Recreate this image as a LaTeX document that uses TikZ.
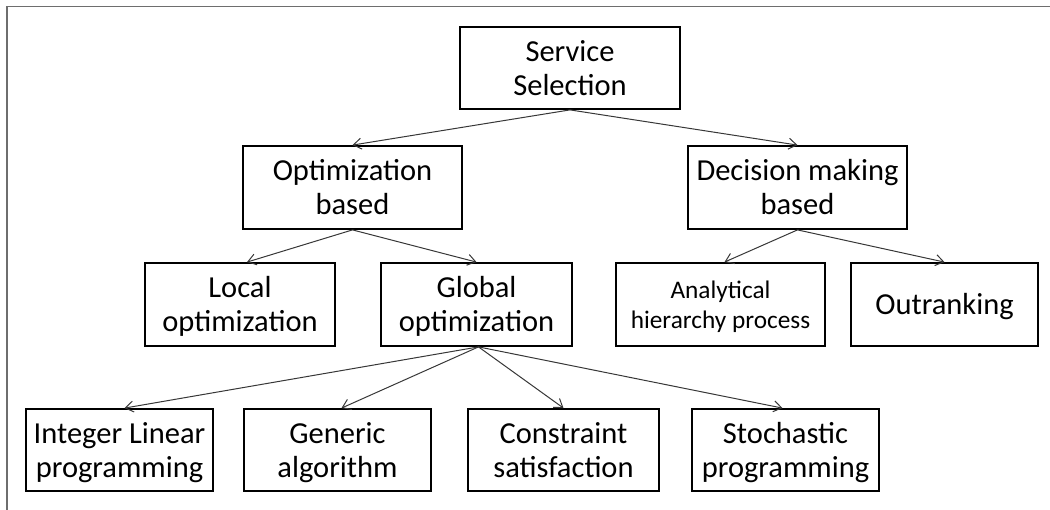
\documentclass[tikz,border=0pt]{standalone}
\usepackage{fontspec}
\setmainfont{Carlito}
\usetikzlibrary{arrows.meta}
\definecolor{linkgray}{RGB}{55,55,55}
\definecolor{framegray}{RGB}{110,110,110}
\tikzset{
  box/.style={draw=black, line width=1.8pt, align=center, inner sep=0pt,
    font=\fontsize{30.5}{34}\selectfont, text height=55pt, text depth=0pt},
  oneline/.style={text height=21pt},
  smalltext/.style={font=\fontsize{25.3}{30}\selectfont, text height=47.5pt},
  link/.style={draw=linkgray, line width=1pt,
    -{Straight Barb[length=8pt,width=11pt,line width=1pt]}},
}
\begin{document}
\begin{tikzpicture}[x=1pt,y=-1pt]
  \useasboundingbox (0,0) rectangle (1050,510);
  % frame lines at top and left
  \draw[framegray, line width=1.5pt] (7,510) -- (7,6.5) -- (1050,6.5);

  % boxes
  \node[box, minimum width=220pt, minimum height=82pt] (ss) at (570,68) {Service\\Selection};
  \node[box, minimum width=219pt, minimum height=83pt] (ob) at (352.5,187.5) {Optimization\\based};
  \node[box, minimum width=219pt, minimum height=83pt] (dm) at (797.5,187.5) {Decision making\\based};
  \node[box, minimum width=190pt, minimum height=83pt] (lo) at (240,304.5) {Local\\optimization};
  \node[box, minimum width=191pt, minimum height=83pt] (go) at (476.5,304.5) {Global\\optimization};
  \node[box, smalltext, minimum width=209pt, minimum height=83pt] (ahp) at (720.5,304.5) {Analytical\\hierarchy process};
  \node[box, oneline, minimum width=187pt, minimum height=83pt] (out) at (944.5,304.5) {Outranking};
  \node[box, minimum width=187pt, minimum height=82pt] (ilp) at (119.5,450) {Integer Linear\\programming};
  \node[box, minimum width=187pt, minimum height=82pt] (ga) at (337.5,450) {Generic\\algorithm};
  \node[box, minimum width=191pt, minimum height=82pt] (cs) at (563.5,450) {Constraint\\satisfaction};
  \node[box, minimum width=187pt, minimum height=82pt] (sp) at (785.5,450) {Stochastic\\programming};

  % connectors
  \draw[link] (ss.south) -- (ob.north);
  \draw[link] (ss.south) -- (dm.north);
  \draw[link] (ob.south) -- ([xshift=7pt]lo.north);
  \draw[link] (ob.south) -- (go.north);
  \draw[link] (dm.south) -- ([xshift=4pt]ahp.north);
  \draw[link] (dm.south) -- (out.north);
  \draw[link] ([xshift=2pt]go.south) -- ([xshift=5pt]ilp.north);
  \draw[link] ([xshift=2pt]go.south) -- ([xshift=4pt]ga.north);
  \draw[link] ([xshift=2pt]go.south) -- (cs.north);
  \draw[link] ([xshift=2pt]go.south) -- ([xshift=-3pt]sp.north);
\end{tikzpicture}
\end{document}
